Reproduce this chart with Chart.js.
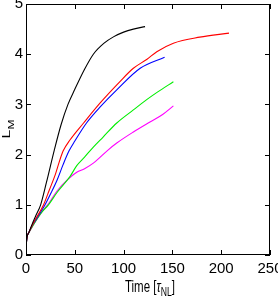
<!DOCTYPE html>
<html>
<head>
<meta charset="utf-8">
<script src="https://cdn.jsdelivr.net/npm/chart.js@4.4.0/dist/chart.umd.min.js"></script>
<style>
  body { margin: 0; background: #fff; }
  canvas { display: block; }
</style>
</head>
<body>
<canvas id="myChart" width="278" height="301"></canvas>
<script>
// tick labels
const xTicks = [0, 50, 100, 150, 200, 250];
const yTicks = [0, 1, 2, 3, 4, 5];

// series (time in tau_NL, L_M)
const blackT = [0, 1, 3, 6, 10, 15, 21, 29, 36, 43, 50, 60, 69, 80, 90, 100, 110, 122];
const blackL = [0.15, 0.35, 0.45, 0.6, 0.78, 1.0, 1.45, 2.09, 2.6, 3.0, 3.3, 3.7, 4.0, 4.22, 4.35, 4.44, 4.5, 4.55];

const redT = [0, 1, 3, 6, 10, 18, 24, 30, 34, 38, 45, 59, 76, 96, 110, 124, 134, 151, 178, 208];
const redL = [0.15, 0.35, 0.45, 0.58, 0.72, 1.0, 1.3, 1.6, 1.85, 2.07, 2.29, 2.63, 3.03, 3.45, 3.72, 3.9, 4.05, 4.22, 4.34, 4.42];

const blueT = [0, 1, 3, 6, 10, 19.5, 26, 32, 38, 44, 50, 62, 76, 93, 117, 142];
const blueL = [0.15, 0.35, 0.45, 0.58, 0.7, 1.0, 1.25, 1.5, 1.8, 2.07, 2.27, 2.63, 2.95, 3.29, 3.72, 3.94];

const greenT = [0, 1, 3, 6, 10, 16, 23, 32, 45, 52, 60, 69, 79, 93, 110, 124, 135, 151];
const greenL = [0.15, 0.35, 0.45, 0.55, 0.68, 0.85, 1.0, 1.25, 1.56, 1.78, 1.95, 2.15, 2.35, 2.63, 2.89, 3.1, 3.25, 3.45];

const magentaT = [0, 1, 3, 6, 10, 16, 23, 32, 42, 52, 60, 69, 84, 93, 110, 127, 140, 151];
const magentaL = [0.15, 0.35, 0.45, 0.55, 0.68, 0.85, 1.02, 1.28, 1.49, 1.65, 1.72, 1.83, 2.09, 2.23, 2.45, 2.65, 2.8, 2.97];

function pts(t, l) {
    return t.map((v, i) => ({ x: v, y: l[i] }));
}

function line(t, l, color) {
    return {
        data: pts(t, l),
        borderColor: color,
        borderWidth: 1.1,
        pointRadius: 0,
        showLine: true,
        fill: false,
        cubicInterpolationMode: 'monotone'
    };
}

// frame, inward ticks and the two axis titles
const framePlugin = {
    id: 'frame',
    afterDraw(chart) {
        const ctx = chart.ctx;
        const a = chart.chartArea;
        const xs = chart.scales.x, ys = chart.scales.y;
        const tl = 5;
        ctx.save();
        ctx.strokeStyle = '#000';
        ctx.lineWidth = 1;
        ctx.strokeRect(Math.round(a.left) + 0.5, Math.round(a.top) + 0.5,
            Math.round(a.right - a.left) - 1, Math.round(a.bottom - a.top) - 1);
        ctx.beginPath();
        xs.ticks.forEach(tk => {
            const px = Math.round(xs.getPixelForValue(tk.value)) + 0.5;
            ctx.moveTo(px, a.bottom); ctx.lineTo(px, a.bottom - tl);
            ctx.moveTo(px, a.top); ctx.lineTo(px, a.top + tl);
        });
        ys.ticks.forEach(tk => {
            const py = Math.round(ys.getPixelForValue(tk.value)) + 0.5;
            ctx.moveTo(a.left, py); ctx.lineTo(a.left + tl, py);
            ctx.moveTo(a.right, py); ctx.lineTo(a.right - tl, py);
        });
        ctx.stroke();

        ctx.fillStyle = '#000';
        ctx.textBaseline = 'alphabetic';
        // x title: Time [tau_NL]
        ctx.save();
        ctx.translate((a.left + a.right) / 2 + 2, 292);
        ctx.scale(0.72, 1);
        const big = '16px "Liberation Sans", Arial, sans-serif';
        const ital = 'italic 16px "Liberation Sans", Arial, sans-serif';
        const small = '12px "Liberation Sans", Arial, sans-serif';
        const parts = [['Time [', big, 0], ['\u03c4', ital, 0], ['NL', small, 4], [']', big, 0]];
        let w = 0;
        parts.forEach(p => { ctx.font = p[1]; w += ctx.measureText(p[0]).width; });
        let x = -w / 2;
        parts.forEach(p => {
            ctx.font = p[1];
            ctx.fillText(p[0], x, p[2]);
            x += ctx.measureText(p[0]).width;
        });
        ctx.restore();

        // y title: L_M
        ctx.save();
        ctx.translate(10, 129);
        ctx.rotate(-Math.PI / 2);
        ctx.scale(1, 0.72);
        const yparts = [['L', big, 0], ['M', small, 5]];
        w = 0;
        yparts.forEach(p => { ctx.font = p[1]; w += ctx.measureText(p[0]).width; });
        x = -w / 2;
        yparts.forEach(p => {
            ctx.font = p[1];
            ctx.fillText(p[0], x, p[2]);
            x += ctx.measureText(p[0]).width;
        });
        ctx.restore();
        ctx.restore();
    }
};

const tickFont = { family: '"Liberation Sans Narrow", "Liberation Sans", Arial, sans-serif', size: 15 };

const config = {
    type: 'scatter',
    data: {
        datasets: [
            line(blackT, blackL, '#000000'),
            line(redT, redL, '#ff0000'),
            line(blueT, blueL, '#0000ff'),
            line(greenT, greenL, '#00ee00'),
            line(magentaT, magentaL, '#ff00ff')
        ]
    },
    options: {
        responsive: false,
        animation: false,
        devicePixelRatio: 1,
        layout: { padding: { left: 0, right: 8, top: 4, bottom: 0 } },
        plugins: {
            legend: { display: false },
            tooltip: { enabled: false }
        },
        scales: {
            x: {
                type: 'linear',
                min: 0,
                max: 250,
                afterBuildTicks: s => { s.ticks = xTicks.map(v => ({ value: v })); },
                afterFit: s => { s.height = 46; s.paddingLeft = 0; s.paddingRight = 0; },
                grid: { display: false, drawTicks: false },
                border: { display: false },
                ticks: { color: '#000', font: tickFont, padding: 5, maxRotation: 0 }
            },
            y: {
                type: 'linear',
                min: 0,
                max: 5,
                afterBuildTicks: s => { s.ticks = yTicks.map(v => ({ value: v })); },
                afterFit: s => { s.width = 26; s.paddingTop = 0; s.paddingBottom = 0; },
                grid: { display: false, drawTicks: false },
                border: { display: false },
                ticks: { color: '#000', font: tickFont, padding: 3 }
            }
        }
    },
    plugins: [framePlugin]
};

const myChart = new Chart(document.getElementById('myChart'), config);
</script>
</body>
</html>
